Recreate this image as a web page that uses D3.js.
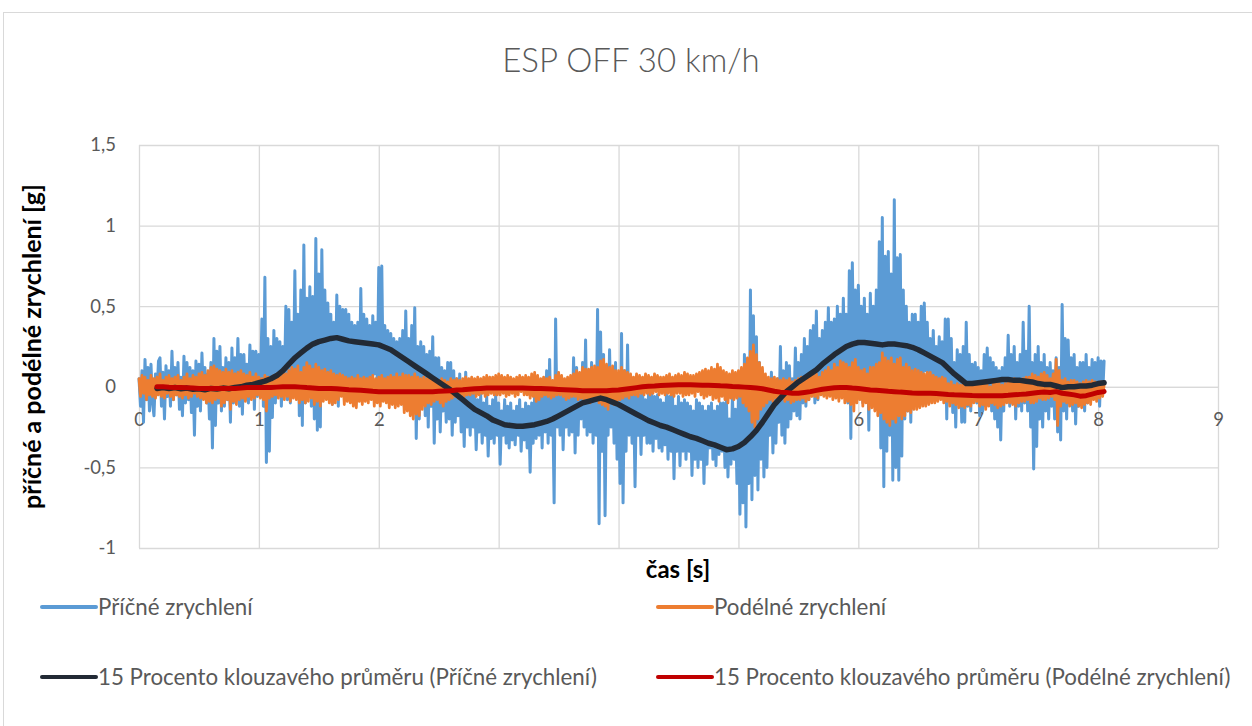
<!DOCTYPE html>
<html>
<head>
<meta charset="utf-8">
<script src="https://cdn.jsdelivr.net/npm/d3@7"></script>
<style>
  html, body { margin: 0; padding: 0; background: #fff; }
  svg { display: block; }
  text { font-family: Lato, "Open Sans", sans-serif; }
</style>
</head>
<body>
<svg id="chart" width="1252" height="726"></svg>
<script>
// Sampling of the raw signals (seconds)
const rawStep = 0.0125;
// Moving-average curves start later and use a coarser step
const maStart = 0.15;
const maStep = 0.05;

// Příčné zrychlení [g]
const pricne = [
  0.05,-0.12,0.10,-0.22,0.17,-0.08,0.12,-0.15,0.14,-0.10,
  -0.18,0.08,-0.05,0.16,0.18,-0.12,0.09,-0.20,0.13,-0.06,
  0.10,-0.12,0.22,-0.08,0.12,-0.05,0.15,-0.14,0.06,-0.18,
  0.19,-0.10,0.15,-0.08,0.12,-0.16,0.10,-0.30,0.16,-0.12,
  0.14,-0.15,0.21,-0.06,0.12,-0.10,0.08,-0.20,0.15,-0.38,
  0.30,-0.24,0.22,-0.10,0.25,-0.15,0.12,-0.12,0.18,-0.08,
  0.15,-0.22,0.24,-0.10,0.18,-0.06,0.30,-0.12,0.20,-0.17,
  0.20,-0.08,0.14,-0.10,0.26,-0.05,0.22,-0.14,0.22,-0.06,
  0.20,-0.05,0.42,-0.12,0.68,-0.47,0.30,-0.40,0.25,-0.19,
  0.35,-0.10,0.30,-0.05,0.28,-0.12,0.25,-0.02,0.50,-0.08,
  0.48,-0.10,0.40,0.00,0.72,-0.05,0.45,-0.18,0.60,-0.24,
  0.88,-0.10,0.55,0.05,0.62,-0.12,0.56,-0.20,0.92,-0.27,
  0.70,-0.25,0.85,0.10,0.60,-0.05,0.52,0.05,0.45,-0.11,
  0.40,0.02,0.57,-0.12,0.50,0.05,0.48,-0.05,0.48,0.02,
  0.45,-0.02,0.40,-0.10,0.38,0.00,0.40,-0.08,0.61,0.05,
  0.45,-0.02,0.42,0.05,0.38,-0.04,0.44,0.08,0.40,0.02,
  0.74,0.05,0.75,-0.02,0.38,0.00,0.35,-0.05,0.33,0.02,
  0.30,-0.08,0.28,-0.05,0.30,0.02,0.35,-0.12,0.47,-0.05,
  0.30,-0.15,0.38,-0.10,0.49,-0.32,0.25,-0.20,0.28,-0.10,
  0.25,-0.18,0.20,-0.25,0.22,-0.12,0.31,-0.35,0.18,-0.20,
  0.18,-0.28,0.12,-0.15,0.10,-0.22,0.15,-0.20,0.15,-0.30,
  0.10,-0.22,0.05,-0.18,0.08,-0.28,0.02,-0.37,0.09,-0.25,
  -0.02,-0.30,0.05,-0.25,-0.05,-0.39,-0.08,-0.28,-0.05,-0.35,
  -0.10,-0.30,-0.06,-0.43,-0.12,-0.32,-0.08,-0.35,-0.05,-0.30,
  -0.10,-0.48,-0.15,-0.30,-0.08,-0.35,-0.12,-0.38,-0.10,-0.33,
  -0.15,-0.36,-0.12,-0.30,-0.08,-0.40,-0.14,-0.33,-0.10,-0.38,
  -0.12,-0.53,-0.10,-0.35,-0.05,-0.32,-0.08,-0.30,0.02,-0.38,
  0.05,-0.28,0.10,-0.35,0.17,-0.30,-0.05,-0.72,0.42,-0.25,
  -0.05,-0.30,0.05,-0.39,-0.02,-0.25,0.05,-0.30,0.00,-0.28,
  0.18,-0.41,0.12,-0.30,0.08,-0.20,0.15,-0.25,0.29,-0.30,
  0.10,-0.28,0.15,-0.35,0.05,-0.30,0.48,-0.85,0.34,-0.40,
  0.20,-0.80,0.05,-0.30,0.23,-0.25,0.10,-0.35,0.15,-0.45,
  0.00,-0.60,0.33,-0.72,0.10,-0.40,0.26,-0.30,0.05,-0.35,
  -0.02,-0.62,0.00,-0.30,-0.05,-0.42,-0.02,-0.30,-0.08,-0.35,
  -0.04,-0.35,-0.02,-0.40,-0.06,-0.32,-0.05,-0.38,-0.08,-0.40,
  -0.10,-0.36,-0.04,-0.45,-0.06,-0.40,-0.04,-0.57,-0.12,-0.40,
  -0.06,-0.49,-0.10,-0.40,-0.08,-0.45,-0.10,-0.40,-0.12,-0.55,
  -0.15,-0.45,-0.08,-0.50,-0.10,-0.45,-0.12,-0.60,-0.15,-0.48,
  -0.12,-0.38,-0.10,-0.45,-0.15,-0.49,-0.12,-0.42,-0.10,-0.40,
  -0.10,-0.50,-0.08,-0.56,-0.20,-0.48,-0.05,-0.45,-0.14,-0.60,
  -0.05,-0.79,0.05,-0.72,0.20,-0.87,0.10,-0.60,0.60,-0.70,
  0.44,-0.55,0.31,-0.64,0.15,-0.45,0.10,-0.56,0.05,-0.50,
  0.00,-0.30,0.09,-0.41,0.02,-0.35,0.05,-0.22,0.25,-0.30,
  0.10,-0.35,0.15,-0.25,0.13,-0.20,0.05,-0.15,0.24,-0.18,
  0.15,-0.20,0.20,-0.10,0.30,-0.12,0.25,-0.08,0.35,-0.05,
  0.38,-0.10,0.47,-0.08,0.30,0.00,0.35,-0.05,0.40,0.05,
  0.49,-0.05,0.40,0.05,0.42,-0.02,0.50,0.08,0.45,0.00,
  0.55,0.05,0.45,-0.10,0.72,-0.32,0.77,0.10,0.60,0.05,
  0.63,0.10,0.50,-0.10,0.55,0.05,0.45,-0.27,0.58,0.00,
  0.50,0.05,0.60,-0.10,0.90,-0.38,1.05,-0.62,0.81,-0.40,
  0.84,-0.30,0.70,-0.58,1.16,-0.50,0.80,-0.58,0.82,-0.43,
  0.60,-0.20,0.50,-0.15,0.40,-0.22,0.45,-0.10,0.45,0.00,
  0.40,0.05,0.50,-0.02,0.52,0.10,0.40,0.00,0.30,-0.02,
  0.35,0.00,0.25,0.05,0.31,-0.05,0.28,-0.08,0.42,-0.20,
  0.42,-0.05,0.30,-0.16,0.15,-0.25,0.23,-0.10,0.20,-0.22,
  0.25,-0.22,0.40,-0.12,0.20,-0.15,0.14,-0.08,0.15,-0.10,
  0.12,-0.18,0.10,-0.15,0.20,-0.12,0.24,-0.10,0.18,-0.15,
  0.15,-0.20,0.12,-0.25,0.10,-0.33,0.12,-0.15,0.18,-0.05,
  0.32,-0.12,0.20,-0.10,0.25,-0.20,0.15,-0.12,0.20,-0.15,
  0.40,-0.10,0.22,-0.15,0.50,-0.25,0.15,-0.51,0.20,-0.37,
  0.25,-0.20,0.15,-0.25,0.20,-0.15,0.12,-0.20,0.15,-0.12,
  0.10,-0.20,0.18,-0.28,0.12,-0.33,0.51,-0.15,0.30,-0.20,
  0.29,-0.10,0.18,-0.15,0.20,-0.23,0.12,-0.12,0.15,-0.08,
  0.15,-0.15,0.20,-0.10,0.12,-0.08,0.17,-0.06,0.15,-0.05,
  0.18,-0.12,0.16,-0.05,0.16
];

// Podélné zrychlení [g]
const podelne = [
  0.05,-0.06,0.07,-0.04,0.06,-0.08,0.04,-0.05,0.07,-0.06,
  0.05,-0.07,0.06,-0.05,0.08,-0.06,0.04,-0.07,0.06,-0.04,
  0.07,-0.06,0.05,-0.08,0.06,-0.05,0.07,-0.06,0.04,-0.07,
  0.06,-0.05,0.08,-0.07,0.05,-0.06,0.07,-0.04,0.06,-0.06,
  0.08,-0.07,0.09,-0.08,0.07,-0.10,0.10,-0.09,0.12,-0.10,
  0.13,-0.08,0.11,-0.07,0.10,-0.12,0.09,-0.10,0.11,-0.08,
  0.09,-0.14,0.10,-0.09,0.08,-0.11,0.09,-0.08,0.10,-0.07,
  0.08,-0.09,0.07,-0.06,0.09,-0.08,0.06,-0.07,0.08,-0.05,
  0.06,-0.07,0.05,-0.08,0.07,-0.15,0.06,-0.07,0.05,-0.06,
  0.07,-0.05,0.08,-0.07,0.06,-0.06,0.09,-0.08,0.08,-0.06,
  0.10,-0.09,0.12,-0.07,0.11,-0.08,0.13,-0.10,0.09,-0.08,
  0.12,-0.10,0.15,-0.09,0.13,-0.07,0.11,-0.11,0.14,-0.09,
  0.12,-0.12,0.10,-0.09,0.11,-0.08,0.09,-0.10,0.10,-0.11,
  0.08,-0.10,0.07,-0.08,0.08,-0.06,0.07,-0.11,0.06,-0.09,
  0.05,-0.10,0.06,-0.12,0.05,-0.13,0.07,-0.09,0.05,-0.11,
  0.06,-0.09,0.05,-0.10,0.06,-0.08,0.07,-0.12,0.05,-0.10,
  0.06,-0.12,0.07,-0.09,0.05,-0.10,0.06,-0.13,0.07,-0.11,
  0.06,-0.13,0.08,-0.12,0.06,-0.11,0.08,-0.16,0.07,-0.15,
  0.07,-0.18,0.06,-0.20,0.08,-0.17,0.06,-0.18,0.05,-0.14,
  0.06,-0.12,0.05,-0.10,0.06,-0.11,0.04,-0.09,0.05,-0.08,
  0.04,-0.10,0.05,-0.12,0.04,-0.09,0.03,-0.08,0.05,-0.07,
  0.04,-0.06,0.05,-0.07,0.04,-0.05,0.05,-0.06,0.06,-0.05,
  0.05,-0.05,0.06,-0.04,0.05,-0.06,0.06,-0.05,0.05,-0.04,
  0.06,-0.06,0.07,-0.05,0.06,-0.04,0.06,-0.05,0.07,-0.05,
  0.08,-0.05,0.07,-0.04,0.06,-0.06,0.07,-0.05,0.06,-0.04,
  0.05,-0.06,0.06,-0.05,0.07,-0.03,0.06,-0.05,0.07,-0.05,
  0.06,-0.07,0.08,-0.06,0.09,-0.09,0.07,-0.08,0.05,-0.06,
  0.06,-0.05,0.05,-0.06,0.06,-0.07,0.04,-0.06,0.07,-0.05,
  0.09,-0.05,0.07,-0.06,0.05,-0.08,0.06,-0.07,0.07,-0.06,
  0.08,-0.06,0.10,-0.08,0.09,-0.07,0.12,-0.09,0.11,-0.07,
  0.11,-0.10,0.12,-0.09,0.13,-0.08,0.12,-0.10,0.16,-0.11,
  0.17,-0.12,0.14,-0.14,0.12,-0.10,0.13,-0.11,0.10,-0.09,
  0.10,-0.08,0.12,-0.07,0.10,-0.06,0.09,-0.07,0.08,-0.05,
  0.06,-0.05,0.08,-0.06,0.07,-0.04,0.06,-0.05,0.08,-0.04,
  0.07,-0.05,0.06,-0.04,0.08,-0.03,0.07,-0.05,0.06,-0.04,
  0.06,-0.05,0.07,-0.04,0.08,-0.05,0.06,-0.06,0.07,-0.04,
  0.08,-0.04,0.07,-0.06,0.09,-0.05,0.08,-0.05,0.07,-0.04,
  0.07,-0.06,0.08,-0.03,0.09,-0.05,0.10,-0.07,0.11,-0.06,
  0.10,-0.05,0.12,-0.08,0.11,-0.07,0.14,-0.09,0.12,-0.06,
  0.10,-0.08,0.09,-0.10,0.08,-0.07,0.10,-0.08,0.09,-0.07,
  0.10,-0.06,0.12,-0.10,0.14,-0.12,0.18,-0.15,0.22,-0.22,
  0.26,-0.25,0.20,-0.20,0.15,-0.14,0.12,-0.12,0.08,-0.10,
  0.06,-0.08,0.05,-0.09,0.06,-0.07,0.05,-0.08,0.04,-0.07,
  0.05,-0.09,0.04,-0.08,0.05,-0.10,0.03,-0.09,0.04,-0.08,
  0.05,-0.08,0.06,-0.07,0.05,-0.09,0.06,-0.08,0.07,-0.06,
  0.07,-0.06,0.08,-0.07,0.06,-0.05,0.09,-0.06,0.10,-0.07,
  0.12,-0.06,0.10,-0.08,0.14,-0.07,0.12,-0.09,0.16,-0.07,
  0.15,-0.10,0.14,-0.09,0.12,-0.11,0.15,-0.15,0.17,-0.10,
  0.12,-0.08,0.10,-0.12,0.11,-0.10,0.08,-0.14,0.12,-0.13,
  0.12,-0.15,0.14,-0.18,0.15,-0.16,0.21,-0.20,0.18,-0.22,
  0.16,-0.24,0.18,-0.20,0.14,-0.22,0.17,-0.18,0.18,-0.20,
  0.12,-0.18,0.14,-0.15,0.12,-0.16,0.10,-0.14,0.11,-0.14,
  0.10,-0.13,0.09,-0.12,0.08,-0.12,0.09,-0.11,0.09,-0.10,
  0.07,-0.10,0.06,-0.09,0.05,-0.08,0.06,-0.10,0.05,-0.09,
  0.02,-0.12,0.03,-0.10,0.01,-0.11,0.02,-0.13,0.01,-0.12,
  0.02,-0.13,0.00,-0.11,0.02,-0.12,0.01,-0.10,0.02,-0.09,
  0.03,-0.12,0.02,-0.11,0.02,-0.14,0.01,-0.12,0.00,-0.10,
  0.02,-0.11,0.03,-0.13,0.02,-0.12,0.01,-0.11,0.02,-0.10,
  0.03,-0.10,0.04,-0.11,0.05,-0.12,0.04,-0.10,0.04,-0.09,
  0.05,-0.09,0.06,-0.08,0.06,-0.10,0.08,-0.10,0.07,-0.09,
  0.06,-0.07,0.08,-0.08,0.09,-0.08,0.07,-0.07,0.05,-0.06,
  0.08,-0.08,0.17,-0.24,0.10,-0.12,0.04,-0.09,0.05,-0.10,
  0.03,-0.12,0.04,-0.11,0.04,-0.10,0.03,-0.12,0.02,-0.13,
  0.03,-0.11,0.04,-0.10,0.03,-0.11,0.04,-0.08,0.03,-0.09,
  0.02,-0.07,0.03,-0.06,0.01
];

// 15-period moving average of Příčné zrychlení
const maPricne = [
  -0.010,-0.005,-0.010,-0.004,-0.012,-0.008,-0.015,-0.012,-0.018,-0.010,
  -0.014,-0.008,-0.012,-0.004,0.000,0.010,0.015,0.025,0.035,0.050,
  0.070,0.100,0.140,0.180,0.210,0.240,0.265,0.280,0.290,0.300,
  0.305,0.295,0.285,0.280,0.275,0.270,0.265,0.260,0.245,0.230,
  0.205,0.180,0.155,0.130,0.105,0.080,0.055,0.030,0.005,-0.020,
  -0.050,-0.080,-0.110,-0.140,-0.160,-0.180,-0.205,-0.220,-0.235,-0.240,
  -0.245,-0.245,-0.240,-0.235,-0.225,-0.215,-0.200,-0.180,-0.160,-0.140,
  -0.120,-0.100,-0.090,-0.080,-0.070,-0.080,-0.095,-0.110,-0.130,-0.150,
  -0.170,-0.190,-0.210,-0.225,-0.240,-0.250,-0.265,-0.280,-0.295,-0.310,
  -0.320,-0.335,-0.350,-0.360,-0.375,-0.390,-0.385,-0.370,-0.345,-0.310,
  -0.270,-0.220,-0.165,-0.110,-0.070,-0.030,0.000,0.030,0.055,0.080,
  0.105,0.140,0.170,0.200,0.225,0.250,0.265,0.275,0.275,0.270,
  0.265,0.260,0.265,0.265,0.260,0.255,0.245,0.230,0.210,0.190,
  0.170,0.150,0.115,0.080,0.050,0.020,0.020,0.025,0.030,0.035,
  0.040,0.045,0.045,0.040,0.040,0.035,0.030,0.020,0.015,0.015,
  0.005,-0.005,0.000,0.000,0.005,0.005,0.010,0.020,0.025
];

// 15-period moving average of Podélné zrychlení
const maPodelne = [
  0.000,0.000,-0.003,-0.005,-0.005,-0.006,-0.008,-0.010,-0.010,-0.010,
  -0.010,-0.010,-0.010,-0.010,-0.008,-0.005,-0.005,-0.005,-0.005,-0.004,
  -0.002,0.000,0.000,0.000,-0.002,-0.005,-0.007,-0.010,-0.010,-0.010,
  -0.012,-0.015,-0.018,-0.020,-0.022,-0.025,-0.028,-0.030,-0.030,-0.030,
  -0.030,-0.030,-0.030,-0.030,-0.030,-0.030,-0.030,-0.028,-0.026,-0.024,
  -0.020,-0.018,-0.015,-0.012,-0.010,-0.008,-0.008,-0.008,-0.007,-0.007,
  -0.007,-0.008,-0.009,-0.010,-0.011,-0.012,-0.014,-0.016,-0.018,-0.020,
  -0.022,-0.024,-0.025,-0.025,-0.025,-0.024,-0.022,-0.020,-0.015,-0.010,
  -0.005,0.000,0.003,0.005,0.008,0.010,0.011,0.012,0.012,0.012,
  0.011,0.010,0.009,0.008,0.006,0.005,0.002,0.000,-0.002,-0.005,
  -0.008,-0.012,-0.020,-0.028,-0.033,-0.036,-0.040,-0.040,-0.035,-0.030,
  -0.022,-0.015,-0.010,-0.006,-0.004,-0.005,-0.008,-0.010,-0.015,-0.020,
  -0.022,-0.025,-0.028,-0.030,-0.033,-0.035,-0.038,-0.040,-0.040,-0.040,
  -0.042,-0.045,-0.048,-0.050,-0.051,-0.052,-0.054,-0.055,-0.055,-0.055,
  -0.056,-0.055,-0.053,-0.050,-0.047,-0.045,-0.040,-0.035,-0.033,-0.035,
  -0.030,-0.040,-0.045,-0.050,-0.058,-0.055,-0.045,-0.035,-0.030
];

const xTicks = [0, 1, 2, 3, 4, 5, 6, 7, 8, 9];
const yTicks = [-1, -0.5, 0, 0.5, 1, 1.5];

const seriesNames = [
  "Příčné zrychlení",
  "Podélné zrychlení",
  "15 Procento klouzavého průměru (Příčné zrychlení)",
  "15 Procento klouzavého průměru (Podélné zrychlení)"
];
const seriesColors = ["#5B9BD5", "#ED7D31", "#222A35", "#C00000"];
const seriesWidths = [3, 2.8, 5.5, 5];

const titleText = "ESP OFF 30 km/h";
const xTitle = "čas [s]";
const yTitle = "příčné a podélné zrychlení [g]";

const svg = d3.select("#chart");

// outer chart frame
svg.append("rect")
  .attr("x", 3.5).attr("y", 12.5)
  .attr("width", 1262).attr("height", 730)
  .attr("fill", "#fff").attr("stroke", "#d9d9d9").attr("stroke-width", 1);

const plot = { left: 139, right: 1218, top: 145, bottom: 548 };
const x = d3.scaleLinear().domain([0, 9]).range([plot.left, plot.right]);
const y = d3.scaleLinear().domain([-1, 1.5]).range([plot.bottom, plot.top]);

const fmt = v => String(v).replace(".", ",");

// gridlines
const grid = svg.append("g");
grid.append("g")
  .attr("transform", `translate(${plot.left},0)`)
  .call(d3.axisLeft(y).tickValues(yTicks).tickSize(-(plot.right - plot.left)).tickFormat(""))
  .call(g => g.select(".domain").remove())
  .call(g => g.selectAll("line").attr("stroke", "#d9d9d9").attr("stroke-width", 1.3));
grid.append("g")
  .attr("transform", `translate(0,${plot.bottom})`)
  .call(d3.axisBottom(x).tickValues(xTicks).tickSize(-(plot.bottom - plot.top)).tickFormat(""))
  .call(g => g.select(".domain").remove())
  .call(g => g.selectAll("line").attr("stroke", "#d9d9d9").attr("stroke-width", 1.3));

// y tick labels
svg.append("g")
  .attr("transform", `translate(${plot.left},0)`)
  .call(d3.axisLeft(y).tickValues(yTicks).tickSize(0).tickPadding(23).tickFormat(fmt))
  .call(g => g.select(".domain").remove())
  .call(g => g.selectAll("text")
    .attr("fill", "#595959").style("font-size", "18.5px").style("font-family", "Lato, sans-serif"));

// horizontal axis crossing at zero
svg.append("g")
  .attr("transform", `translate(0,${y(0)})`)
  .call(d3.axisBottom(x).tickValues(xTicks).tickSize(0).tickPadding(26).tickFormat(d => d))
  .call(g => g.select(".domain").attr("stroke", "#d9d9d9").attr("stroke-width", 1.3))
  .call(g => g.selectAll("text")
    .attr("fill", "#595959").style("font-size", "18.5px").style("font-family", "Lato, sans-serif"));

// series
const rawPts = arr => arr.map((v, i) => [i * rawStep, v]);
const maPts = arr => arr.map((v, i) => [maStart + i * maStep, v]);
const line = d3.line().x(d => x(d[0])).y(d => y(d[1]));

const seriesData = [rawPts(pricne), rawPts(podelne), maPts(maPricne), maPts(maPodelne)];
svg.append("g").selectAll("path")
  .data(seriesData)
  .join("path")
  .attr("d", line)
  .attr("fill", "none")
  .attr("stroke", (d, i) => seriesColors[i])
  .attr("stroke-width", (d, i) => seriesWidths[i])
  .attr("stroke-linejoin", "round")
  .attr("stroke-linecap", "round");

// title
svg.append("text")
  .attr("x", 631).attr("y", 72)
  .attr("text-anchor", "middle")
  .attr("fill", "#595959")
  .style("font-size", "33px").style("font-weight", 300)
  .text(titleText);

// axis titles
svg.append("text")
  .attr("x", 678).attr("y", 578)
  .attr("text-anchor", "middle")
  .attr("fill", "#000")
  .style("font-size", "24px").style("font-weight", 700)
  .text(xTitle);
svg.append("text")
  .attr("transform", `translate(41,${(plot.top + plot.bottom) / 2}) rotate(-90)`)
  .attr("text-anchor", "middle")
  .attr("fill", "#000")
  .style("font-size", "25px").style("font-weight", 700)
  .text(yTitle);

// legend
const legendPos = [[42, 607], [658, 607], [42, 677], [658, 677]];
const lg = svg.append("g").selectAll("g")
  .data(seriesNames)
  .join("g")
  .attr("transform", (d, i) => `translate(${legendPos[i][0]},${legendPos[i][1]})`);
lg.append("line")
  .attr("x1", 0).attr("x2", 54).attr("y1", 0).attr("y2", 0)
  .attr("stroke", (d, i) => seriesColors[i])
  .attr("stroke-width", 4)
  .attr("stroke-linecap", "round");
lg.append("text")
  .attr("x", 56).attr("y", 8)
  .attr("fill", "#595959")
  .style("font-size", "22.3px")
  .text(d => d);
</script>
</body>
</html>
